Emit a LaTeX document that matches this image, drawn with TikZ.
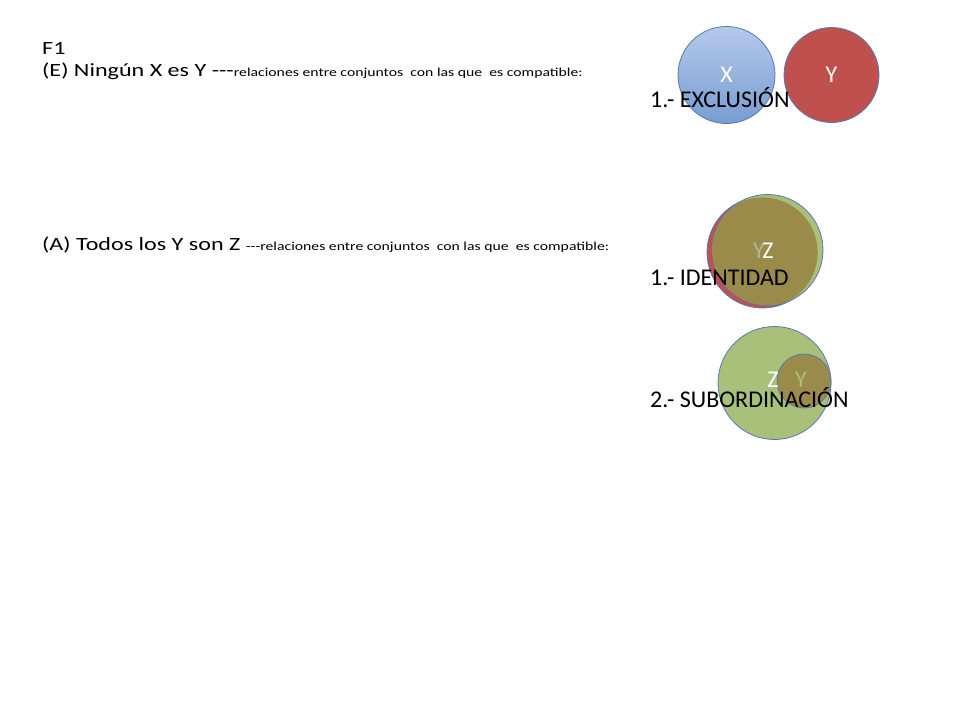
\documentclass[tikz,border=0pt]{standalone}
\usepackage{graphicx}
\usepackage{fontspec}
\setmainfont{Carlito}
\definecolor{bluetop}{HTML}{B5C9EB}
\definecolor{bluebot}{HTML}{779DD2}
\definecolor{edgecol}{HTML}{5878B0}
\definecolor{redfill}{HTML}{C0504D}
\definecolor{greenfill}{HTML}{A8C07A}
\definecolor{olivefill}{HTML}{9B8B4B}
\definecolor{ylabgray}{HTML}{B4B49A}
\tikzset{
  big/.style={font=\fontsize{18.67}{22.4}\selectfont, anchor=base west, inner sep=0},
  lab/.style={font=\fontsize{24}{28}\selectfont, anchor=base west, inner sep=0},
  clab/.style={font=\fontsize{24}{28}\selectfont, inner sep=0},
  setc/.style={circle, draw=edgecol, line width=0.8pt, inner sep=0},
}
\newcommand{\smalltxt}[1]{{\fontsize{12.2}{14}\selectfont #1}}
\newcommand{\wide}[1]{\scalebox{1.29}[1]{#1}}
\begin{document}
\begin{tikzpicture}[x=1pt,y=-1pt]
\useasboundingbox (0,0) rectangle (960,720);
\fill[white] (0,0) rectangle (960,720);

% Exclusion
\node (cx) [setc, minimum size=97pt, top color=bluetop, bottom color=bluebot] at (726.5,75) {};
\node (cy) [setc, minimum size=95pt, fill=redfill] at (831.5,75) {};
\node (lx) [clab, text=white] at (cx.center) {X};
\node (ly) [clab, text=white] at (cy.center) {Y};

% Identity
\node (iy) [setc, minimum size=111pt, fill=redfill] at (762.5,252.5) {};
\node (iz) [setc, minimum size=111pt, fill=greenfill] at (767.5,250) {};
\begin{scope}
  \clip (762.5,252.5) circle (55.1);
  \fill[olivefill] (767.5,250) circle (55.1);
\end{scope}
\node (liy) [clab, text=ylabgray] at (759,251) {Y};
\node (liz) [clab, text=white] at (768,251) {Z};

% Subordination
\node (sz) [setc, minimum size=113pt, fill=greenfill] at (774.5,383) {};
\node (sy) [setc, minimum size=54pt, fill=olivefill] at (804,381) {};
\node (lsz) [clab, text=white] at (773,380) {Z};
\node (lsy) [clab, text=greenfill] at (801,380) {Y};

% Left texts
\node (f1) [big] at (42,54) {\wide{F1}};
\node (e) [big] at (42,76.5) {\wide{(E) Ningún X es Y {-}{-}{-}\smalltxt{relaciones entre conjuntos\ \ con las que\ \ es compatible:}}};
\node (a) [big] at (42,250.5) {\wide{(A) Todos los Y son Z \smalltxt{{-}{-}{-}relaciones entre conjuntos\ \ con las que\ \ es compatible:}}};

% Right texts
\node (t1) [lab] at (650,107) {1.- EXCLUSIÓN};
\node (t2) [lab] at (650,285) {1.- IDENTIDAD};
\node (t3) [lab] at (650,407.5) {2.- SUBORDINACIÓN};
\end{tikzpicture}
\end{document}
